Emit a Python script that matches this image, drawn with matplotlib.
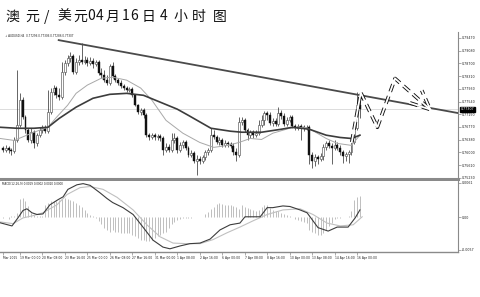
import matplotlib
matplotlib.use("Agg")
import matplotlib.pyplot as plt
import matplotlib.transforms as mtransforms
import numpy as np

# ---------------- data: AUDUSD H4 ----------------
opens = [0.7612, 0.7606, 0.7612, 0.7606, 0.7603, 0.7636, 0.7682, 0.7758, 0.7706, 0.7667,
         0.7636, 0.7661, 0.7627, 0.7652, 0.7667, 0.7673, 0.7664, 0.7722, 0.7782, 0.7795,
         0.7773, 0.7767, 0.7843, 0.7871, 0.7886, 0.7892, 0.7843, 0.7874, 0.7880, 0.7874,
         0.7880, 0.7871, 0.7877, 0.7868, 0.7874, 0.7840, 0.7834, 0.7819, 0.7810, 0.7862,
         0.7831, 0.7819, 0.7810, 0.7801, 0.7795, 0.7789, 0.7792, 0.7773, 0.7743, 0.7722,
         0.7728, 0.7712, 0.7652, 0.7645, 0.7652, 0.7645, 0.7648, 0.7642, 0.7606, 0.7615,
         0.7606, 0.7636, 0.7642, 0.7606, 0.7621, 0.7630, 0.7612, 0.7591, 0.7597, 0.7575,
         0.7581, 0.7575, 0.7585, 0.7600, 0.7606, 0.7652, 0.7645, 0.7630, 0.7636, 0.7621,
         0.7627, 0.7624, 0.7618, 0.7600, 0.7591, 0.7691, 0.7697, 0.7667, 0.7652, 0.7661,
         0.7652, 0.7658, 0.7682, 0.7697, 0.7719, 0.7712, 0.7688, 0.7694, 0.7685, 0.7719,
         0.7709, 0.7685, 0.7697, 0.7706, 0.7679, 0.7673, 0.7679, 0.7676, 0.7673, 0.7676,
         0.7591, 0.7575, 0.7585, 0.7581, 0.7588, 0.7615, 0.7627, 0.7618, 0.7612, 0.7621,
         0.7612, 0.7600, 0.7588, 0.7594, 0.7600, 0.7630, 0.7673, 0.7743]
highs = [0.7618, 0.7621, 0.7618, 0.7612, 0.7645, 0.7850, 0.7779, 0.7767, 0.7712, 0.7673,
         0.7673, 0.7667, 0.7658, 0.7676, 0.7682, 0.7682, 0.7789, 0.7795, 0.7804, 0.7801,
         0.7795, 0.7874, 0.7880, 0.7895, 0.7904, 0.7898, 0.7886, 0.7895, 0.7932, 0.7892,
         0.7889, 0.7889, 0.7886, 0.7880, 0.7880, 0.7856, 0.7850, 0.7834, 0.7868, 0.7874,
         0.7837, 0.7825, 0.7819, 0.7807, 0.7801, 0.7798, 0.7798, 0.7776, 0.7746, 0.7734,
         0.7734, 0.7719, 0.7658, 0.7658, 0.7658, 0.7655, 0.7655, 0.7648, 0.7627, 0.7624,
         0.7658, 0.7658, 0.7648, 0.7630, 0.7636, 0.7636, 0.7618, 0.7606, 0.7603, 0.7591,
         0.7588, 0.7591, 0.7606, 0.7612, 0.7673, 0.7667, 0.7652, 0.7645, 0.7642, 0.7636,
         0.7633, 0.7630, 0.7627, 0.7612, 0.7706, 0.7706, 0.7703, 0.7673, 0.7667, 0.7667,
         0.7667, 0.7697, 0.7712, 0.7725, 0.7725, 0.7722, 0.7703, 0.7703, 0.7737, 0.7728,
         0.7719, 0.7706, 0.7712, 0.7712, 0.7685, 0.7685, 0.7685, 0.7682, 0.7682, 0.7682,
         0.7600, 0.7594, 0.7591, 0.7597, 0.7624, 0.7633, 0.7636, 0.7627, 0.7636, 0.7630,
         0.7621, 0.7606, 0.7600, 0.7606, 0.7642, 0.7682, 0.7782, 0.7758]
lows = [0.7600, 0.7600, 0.7597, 0.7591, 0.7597, 0.7630, 0.7676, 0.7700, 0.7658, 0.7630,
        0.7627, 0.7612, 0.7618, 0.7645, 0.7658, 0.7658, 0.7658, 0.7716, 0.7773, 0.7764,
        0.7758, 0.7761, 0.7834, 0.7862, 0.7874, 0.7837, 0.7837, 0.7865, 0.7868, 0.7868,
        0.7862, 0.7865, 0.7856, 0.7862, 0.7834, 0.7825, 0.7813, 0.7804, 0.7804, 0.7825,
        0.7813, 0.7804, 0.7795, 0.7789, 0.7782, 0.7782, 0.7767, 0.7740, 0.7716, 0.7712,
        0.7703, 0.7645, 0.7636, 0.7639, 0.7636, 0.7636, 0.7633, 0.7591, 0.7600, 0.7600,
        0.7600, 0.7627, 0.7597, 0.7600, 0.7612, 0.7606, 0.7585, 0.7585, 0.7569, 0.7530,
        0.7566, 0.7569, 0.7578, 0.7591, 0.7600, 0.7639, 0.7624, 0.7621, 0.7615, 0.7615,
        0.7615, 0.7612, 0.7591, 0.7575, 0.7585, 0.7682, 0.7661, 0.7636, 0.7642, 0.7642,
        0.7645, 0.7652, 0.7676, 0.7682, 0.7697, 0.7682, 0.7679, 0.7679, 0.7679, 0.7700,
        0.7679, 0.7679, 0.7691, 0.7673, 0.7667, 0.7667, 0.7636, 0.7664, 0.7667, 0.7566,
        0.7551, 0.7557, 0.7566, 0.7575, 0.7578, 0.7606, 0.7612, 0.7566, 0.7606, 0.7606,
        0.7591, 0.7569, 0.7575, 0.7569, 0.7591, 0.7624, 0.7667, 0.7703]
closes = [0.7606, 0.7612, 0.7606, 0.7603, 0.7636, 0.7682, 0.7758, 0.7706, 0.7667, 0.7636,
          0.7661, 0.7627, 0.7652, 0.7667, 0.7673, 0.7664, 0.7722, 0.7782, 0.7795, 0.7773,
          0.7767, 0.7843, 0.7871, 0.7886, 0.7892, 0.7843, 0.7874, 0.7880, 0.7874, 0.7880,
          0.7871, 0.7877, 0.7868, 0.7874, 0.7840, 0.7834, 0.7819, 0.7810, 0.7862, 0.7831,
          0.7819, 0.7810, 0.7801, 0.7795, 0.7789, 0.7792, 0.7773, 0.7743, 0.7722, 0.7728,
          0.7712, 0.7652, 0.7645, 0.7652, 0.7645, 0.7648, 0.7642, 0.7606, 0.7615, 0.7606,
          0.7636, 0.7642, 0.7606, 0.7621, 0.7630, 0.7612, 0.7591, 0.7597, 0.7575, 0.7581,
          0.7575, 0.7585, 0.7600, 0.7606, 0.7652, 0.7645, 0.7630, 0.7636, 0.7621, 0.7627,
          0.7624, 0.7618, 0.7600, 0.7591, 0.7691, 0.7697, 0.7667, 0.7652, 0.7661, 0.7652,
          0.7658, 0.7682, 0.7697, 0.7719, 0.7712, 0.7688, 0.7694, 0.7685, 0.7719, 0.7709,
          0.7685, 0.7697, 0.7706, 0.7679, 0.7673, 0.7679, 0.7676, 0.7673, 0.7676, 0.7591,
          0.7575, 0.7585, 0.7581, 0.7588, 0.7615, 0.7627, 0.7618, 0.7612, 0.7621, 0.7612,
          0.7600, 0.7588, 0.7594, 0.7600, 0.7630, 0.7673, 0.7743, 0.7731]

# moving averages (bar index, value)
ma_slow_bars = [-1, 5, 11, 16, 20, 26, 32, 38, 44, 50, 56, 62, 66, 74, 81, 85, 92, 99, 103, 109, 115, 120, 124, 127]
ma_slow_vals = [0.7676, 0.7673, 0.7673, 0.7676, 0.7703, 0.7737, 0.7764, 0.7776, 0.7779, 0.7773, 0.7752, 0.7731,
                0.7712, 0.7673, 0.7664, 0.7661, 0.7661, 0.7670, 0.7676, 0.7670, 0.7652, 0.7645, 0.7642, 0.7652]
ma_fast_bars = [-1, 4, 11, 16, 19, 23, 26, 30, 35, 39, 44, 49, 53, 58, 64, 70, 75, 80, 84, 88, 92, 96, 102,
                107, 110, 115, 119, 124, 126, 127]
ma_fast_vals = [0.7642, 0.7636, 0.7661, 0.7676, 0.7706, 0.7743, 0.7779, 0.7804, 0.7825, 0.7828, 0.7819, 0.7795,
                0.7758, 0.7697, 0.7658, 0.7630, 0.7615, 0.7621, 0.7630, 0.7642, 0.7639, 0.7658, 0.7673, 0.7676,
                0.7667, 0.7642, 0.7627, 0.7621, 0.7642, 0.7652]

# trend line and projected path (bar index, price)
trend_bars = [19.5, 162]
trend_vals = [0.7941, 0.7719]
path_bars = [124.1, 127.3, 133.2, 139.5, 152.0]
path_vals = [0.7631, 0.7781, 0.7676, 0.7824, 0.7730]
head_bars = [144.8, 152.0, 149.0]
head_vals = [0.7750, 0.7730, 0.7788]

last_price = 0.77307

# MACD(12,26,9)
macd_bars = [-1, 3.2, 5.3, 7.1, 8.5, 10.3, 12.1, 14.2, 16.7, 19.6, 21.4, 23.1, 26.3, 28.5, 31, 34.5, 37, 39,
             42.7, 46.3, 49.8, 53.4, 56.9, 59.4, 63, 66.5, 70.1, 73.7, 77.2, 80.8, 84.3, 86.1, 88.9, 91.5, 94,
             96, 99.6, 102.1, 105.7, 108.2, 110, 112.1, 115.7, 118.9, 121, 122.8, 125.3, 127]
macd_vals = [-0.00095, -0.0015, -0.0001, 0.0012, 0.0015, 0.0008, 0.0005, 0.0006, 0.0022, 0.0031, 0.0036,
             0.0049, 0.0057, 0.0059, 0.0056, 0.0043, 0.0033, 0.0026, 0.0017, 0.0005, -0.0017, -0.0040,
             -0.0052, -0.0055, -0.0050, -0.0046, -0.0045, -0.0038, -0.0022, -0.0013, -0.0010, 0.0001,
             0.0001, 0.0001, 0.0017, 0.0017, 0.0020, 0.0019, 0.0013, 0.0008, -0.0004, -0.0018, -0.0024,
             -0.0017, -0.0017, -0.0017, -0.0001, 0.0013]
signal_bars = [-1, 3.6, 7.1, 10.7, 14.2, 19.2, 22.8, 27.4, 31, 35.6, 40.6, 46.3, 51.2, 55.9, 60.5, 65.5,
               70.1, 74.7, 79.7, 84.3, 89, 94, 99.6, 105.7, 110.3, 115.3, 120, 124.6, 127.8]
signal_vals = [-0.0008, -0.0011, -0.0001, 0.0003, 0.0008, 0.0022, 0.0040, 0.0052, 0.0054, 0.0049, 0.0035,
               0.0013, -0.0013, -0.0034, -0.0045, -0.0046, -0.0046, -0.0039, -0.0027, -0.0017, -0.0006,
               0.0005, 0.0013, 0.0015, 0.0005, -0.0010, -0.0015, -0.0013, 0.0001]
macd_hist = [-0.0001, 0.0001, -0.0002, 0.0002, 0.0003, 0.0008, 0.0032, 0.0034, 0.0028, 0.0020,
             0.0008, 0.0005, 0.0002, 0.0002, 0.0003, 0.0022, 0.0025, 0.0028, 0.0028, 0.0028,
             0.0031, 0.0032, 0.0034, 0.0032, 0.0030, 0.0028, 0.0025, 0.0022, 0.0018, 0.0013,
             0.0008, 0.0005, 0.0002, -0.0001, -0.0007, -0.0011, -0.0018, -0.0022, -0.0025, -0.0022,
             -0.0025, -0.0026, -0.0028, -0.0028, -0.0028, -0.0028, -0.0031, -0.0033, -0.0036, -0.0039,
             -0.0040, -0.0042, -0.0042, -0.0039, -0.0036, -0.0033, -0.0030, -0.0028, -0.0025, -0.0019,
             -0.0012, -0.0008, -0.0005, -0.0002, -0.0001, -0.0001, -0.0001, -0.0001, 0.0001, 0.0001,
             0.0001, 0.0001, 0.0006, 0.0010, 0.0014, 0.0018, 0.0024, 0.0025, 0.0023, 0.0022,
             0.0022, 0.0021, 0.0020, 0.0018, 0.0015, 0.0022, 0.0019, 0.0016, 0.0014, 0.0013,
             0.0011, 0.0013, 0.0019, 0.0022, 0.0021, 0.0017, 0.0013, 0.0011, 0.0011, 0.0008,
             0.0006, 0.0005, 0.0003, 0.0000, -0.0003, -0.0005, -0.0007, -0.0008, -0.0010, -0.0022,
             -0.0025, -0.0028, -0.0031, -0.0030, -0.0028, -0.0022, -0.0015, -0.0009, -0.0003, -0.0001,
             -0.0001, 0.0000, 0.0000, 0.0002, 0.0011, 0.0031, 0.0036, 0.0037]

# axis labels
price_ticks = [0.79470, 0.79080, 0.78700, 0.78310, 0.77930, 0.77540, 0.77150, 0.76770,
               0.76380, 0.76000, 0.75610, 0.75230]
macd_ticks = [0.0061, 0.0, -0.0057]
macd_tick_labels = ["0.0061", "0.00", "-0.0057"]
date_tick_bars = [0, 6, 14, 22, 30, 38, 46, 54, 62, 70, 78, 86, 94, 102, 110, 118, 126]
date_tick_labels = ["Mar 2015", "19 Mar 00:00", "20 Mar 08:00", "23 Mar 16:00", "25 Mar 00:00",
                    "26 Mar 08:00", "27 Mar 16:00", "31 Mar 00:00", "1 Apr 08:00", "2 Apr 16:00",
                    "6 Apr 00:00", "7 Apr 08:00", "8 Apr 16:00", "10 Apr 00:00", "13 Apr 08:00",
                    "14 Apr 16:00", "16 Apr 00:00"]
title_chars = list("澳元/美元04月16日4小时图")
title_x = [12.5, 32.5, 46.5, 64.5, 80.5, 91.5, 100, 112.5, 125.5, 134.5, 148, 163.5, 180, 198.5, 219.5]

# ---------------- figure ----------------
W, H = 480, 297
fig = plt.figure(figsize=(W / 100, H / 100), dpi=100)
fig.patch.set_facecolor("white")

ax = fig.add_axes([0, 1 - 178.5 / H, 458 / W, (178.5 - 32) / H])
axm = fig.add_axes([0, 1 - 252 / H, 458 / W, (252 - 180.5) / H])

xlim = (-1.07, 161.9)
GRAY = "#8a8a8a"
SMALL = 2.3

# candles
bars = np.arange(len(closes))
o = np.array(opens); c = np.array(closes); h = np.array(highs); l = np.array(lows)
ax.vlines(bars, l, h, color="#3a3a3a", lw=0.55, zorder=2)
up = c >= o
body_lo = np.minimum(o, c)
body_h = np.maximum(np.abs(c - o), 0.00008)
ax.bar(bars[up], body_h[up], bottom=body_lo[up], width=0.7, color="white",
       edgecolor="#555555", linewidth=0.45, zorder=3)
ax.bar(bars[~up], body_h[~up], bottom=body_lo[~up], width=0.7, color="#111111",
       edgecolor="#111111", linewidth=0.3, zorder=3)

# moving averages
ax.plot(ma_fast_bars, ma_fast_vals, color="#a8a8a8", lw=0.7, zorder=4)
ax.plot(ma_slow_bars, ma_slow_vals, color="#3c3c3c", lw=1.2, zorder=4)

# last price line
ax.axhline(last_price, color="#dcdcdc", lw=0.7, zorder=1)

# trend line
ax.plot(trend_bars, trend_vals, color="#4a4a4a", lw=1.3, zorder=5, solid_capstyle="butt")

# projected path: white band with dashed dark edges
for xs, ys in ((path_bars, path_vals), (head_bars, head_vals)):
    ax.plot(xs, ys, color="#111111", lw=2.6, ls=(0, (2.2, 1.3)), zorder=6, solid_joinstyle="miter")
    ax.plot(xs, ys, color="white", lw=1.3, zorder=7, solid_joinstyle="miter")

ax.set_xlim(*xlim)
ax.set_ylim(0.75205, 0.79652)
for s in ("top", "left"):
    ax.spines[s].set_visible(False)
ax.spines["right"].set_color(GRAY)
ax.spines["right"].set_linewidth(0.8)
ax.spines["bottom"].set_color(GRAY)
ax.spines["bottom"].set_linewidth(2.2)
ax.set_xticks([])
ax.yaxis.tick_right()
ax.set_yticks(price_ticks)
ax.set_yticklabels([f"{v:.5f}" for v in price_ticks])
ax.tick_params(axis="y", labelsize=SMALL, length=2, width=0.5, color=GRAY, pad=1, labelcolor="#222222")

# price box on the axis
trans = mtransforms.blended_transform_factory(ax.transAxes, ax.transData)
ax.text(1.006, last_price, f"{last_price:.5f}", transform=trans, fontsize=SMALL, color="white",
        va="center", ha="left", zorder=10, clip_on=False,
        bbox=dict(boxstyle="square,pad=0.15", fc="black", ec="black"))

ax.text(0.01, 0.985, "\u2193 AUDUSD,H4  0.77296 0.77306 0.77286 0.77307", transform=ax.transAxes,
        fontsize=2.0, color="#222222", va="top", ha="left")

# MACD panel
axm.vlines(bars, 0, macd_hist, color="#b4b4b4", lw=0.6, zorder=2)
axm.plot(signal_bars, signal_vals, color="#c0c0c0", lw=0.8, zorder=3)
axm.plot(macd_bars, macd_vals, color="#3c3c3c", lw=0.8, zorder=4)
axm.set_xlim(*xlim)
axm.set_ylim(-0.00606, 0.00645)
for s in ("top", "left"):
    axm.spines[s].set_visible(False)
axm.spines["right"].set_color(GRAY)
axm.spines["right"].set_linewidth(0.8)
axm.spines["bottom"].set_color(GRAY)
axm.spines["bottom"].set_linewidth(1.0)
axm.yaxis.tick_right()
axm.set_yticks(macd_ticks)
axm.set_yticklabels(macd_tick_labels)
axm.tick_params(axis="y", labelsize=SMALL, length=2, width=0.5, color=GRAY, pad=1, labelcolor="#222222")
axm.set_xticks(date_tick_bars)
axm.set_xticklabels(date_tick_labels)
for lab in axm.get_xticklabels():
    lab.set_ha("left")
axm.tick_params(axis="x", labelsize=2.2, length=2, width=0.5, color=GRAY, pad=1, labelcolor="#222222")
axm.text(0.005, 0.985, "MACD(12,26,9) 0.0019 0.0002 0.0020 0.0000", transform=axm.transAxes,
         fontsize=2.0, color="#222222", va="top", ha="left")

# title
for ch, x in zip(title_chars, title_x):
    fig.text(x / W, 1 - 16.5 / H, ch, ha="center", va="center", fontsize=10,
             family=["Noto Sans CJK SC", "DejaVu Sans"], color="#111111")

fig.savefig("out.png", dpi=100, facecolor="white")
